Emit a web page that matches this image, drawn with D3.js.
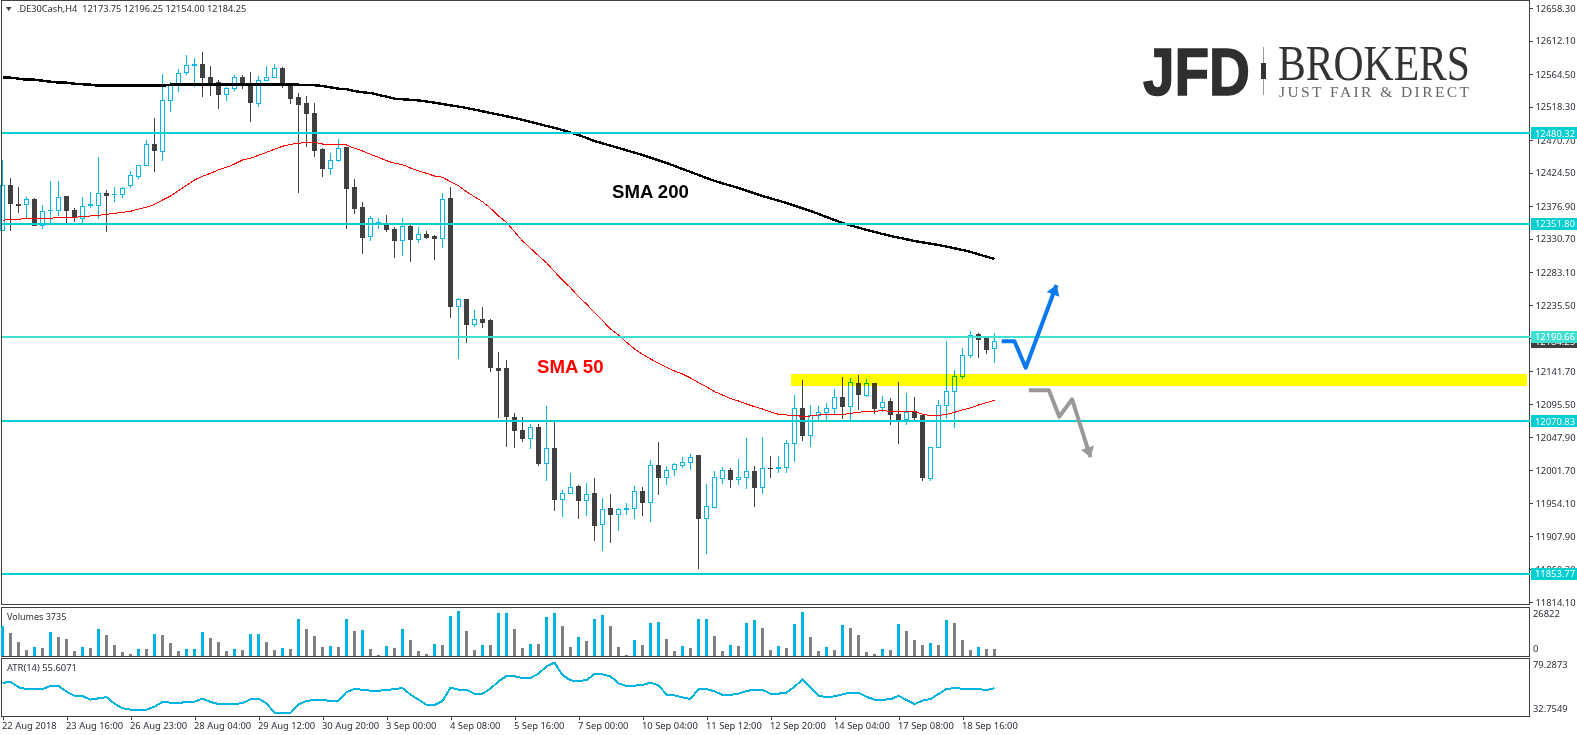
<!DOCTYPE html>
<html>
<head>
<meta charset="utf-8">
<script src="https://cdn.jsdelivr.net/npm/d3@7"></script>
<style>
body { margin: 0; background: #fff; overflow: hidden; }
svg { display: block; }
text { font-family: "Noto Sans", sans-serif; font-size: 9.4px; fill: #2e2e38; }
.crisp { shape-rendering: crispEdges; }
.candle { mix-blend-mode: multiply; }
</style>
</head>
<body>
<div id="chart"></div>
<script>
// H4 candles, left to right
var opens = [12341.8,12406.3,12379.3,12379.3,12386.4,12349.5,12370.3,12370.8,12389.7,12371.2,
12359.4,12378.3,12377.9,12395,12392.6,12393.5,12406.3,12418.5,12434.8,12463.6,
12454.1,12527.1,12548.9,12566.4,12577.2,12578.7,12559.8,12552.7,12535.7,12544.2,
12559.8,12548.5,12522.9,12555.6,12559.8,12572.6,12548.5,12530.4,12521.9,12508.7,
12456.5,12429.9,12441.3,12459.4,12402.5,12374.1,12333.3,12352.3,12349.9,12343.8,
12328.2,12347.1,12329.6,12337.1,12332.9,12331,12387.8,12233.8,12244.7,12208.2,
12216.3,12213.5,12145.3,12145.3,12077,12058.2,12046.8,12062.8,12011.3,12032.6,
11960.1,11968.6,11977.6,11958.7,11967.6,11924,11946.3,11938.8,11946.2,11946.7,
11971.5,11955.3,12008.8,11991.4,12002.7,12008.4,12012.7,12021.6,11933.1,11948.7,
11989.4,12001.3,11988.5,11991.4,11999.9,11976.6,12004.2,12004.1,12005,12039.7,
12089.4,12050.5,12078.9,12083.7,12089.4,12105,12091.7,12125,12107.3,12124,
12090.3,12098.4,12079.9,12072.8,12084.2,12078.5,11989.4,12034,12093.7,12113.6,
12134.9,12164.7,12194.6,12187.9,12173.75];
var highs = [12442.3,12416.7,12404.3,12390.1,12387.8,12378.3,12412.4,12412.4,12389.7,12373.7,
12389.7,12396.8,12446.1,12399.7,12403.9,12404.3,12426.2,12435.2,12470.7,12502,
12564.5,12552.7,12571.2,12591.5,12587.3,12595.8,12575.9,12556,12546.5,12562.7,
12563.1,12566.9,12561.7,12575.9,12578.3,12574,12551.3,12537.1,12533.2,12522.9,
12458.9,12451.8,12472.2,12461.2,12415.3,12382.2,12362.7,12359.9,12364.1,12346.7,
12359.9,12349.9,12347.1,12341,12335.3,12395,12404.3,12245.7,12244.7,12229.1,
12233.4,12216.3,12169,12158,12082.3,12077,12067.1,12067.1,12092.7,12070.4,
11972.9,11997.5,11980,11983.3,11990.4,11961.9,11967.6,11947.3,11954.8,11979,
11977.6,12015.9,12041.5,12007.4,12011.7,12019.8,12024.5,12023.1,11981.8,11999.9,
12005.6,12004.2,12017.4,12047.2,12007.4,12048.7,12021.6,12021.6,12044,12108.3,
12129.6,12094.1,12092.7,12097,12116.8,12133.9,12132.5,12136.7,12130.6,12125.4,
12106.9,12104,12126.8,12111.2,12105.5,12079.9,12034.4,12101.2,12185.1,12143.8,
12175.1,12199.3,12196,12189.3,12196.25];
var lows = [12341.8,12341.4,12367.4,12359.4,12348.9,12344.6,12352.3,12362.7,12352.3,12354.2,
12352.3,12373.7,12358.9,12340,12383,12388.7,12402.9,12415.7,12433.8,12425.7,
12440.9,12511,12539.4,12563.5,12545.6,12532.3,12533.7,12515.2,12526.6,12539.9,
12543.6,12496.7,12518.1,12554.6,12559.8,12545,12522.3,12395.8,12461.2,12447,
12418.5,12421.4,12439.9,12344.2,12366,12309.1,12327.6,12344.2,12340,12303.4,
12306.3,12297.8,12324.8,12329.6,12300.6,12317.7,12218.2,12159.9,12182.7,12205.4,
12204,12141,12076.1,12034.8,12033.4,12041.5,12031.6,12007.9,11986.5,11943.9,
11934.9,11968.6,11932.1,11936.4,11900.8,11886.6,11898,11915,11937.8,11932.1,
11936.4,11927.8,11966.2,11980.4,11993.2,12004.6,12001.7,11861,11882.4,11948.7,
11981.8,11976.2,11980.4,11974.7,11949.2,11967.6,11990.4,11997.5,11997.5,12013.1,
12043.4,12034.8,12072.8,12072.8,12081.3,12074.6,12072.8,12087,12105.5,12081.3,
12084.2,12065.7,12038.7,12065.7,12072.8,11986.1,11986.1,12033.4,12074.2,12061.4,
12131,12160.9,12160.9,12166.6,12154];
var closes = [12406.3,12380.2,12377.3,12386.4,12349.5,12369.4,12370.8,12389.3,12370.2,12360.9,
12376.5,12378.8,12395,12391.6,12393,12402.1,12420.6,12434.8,12464.6,12455.1,
12527.1,12547.5,12565.5,12576.9,12577.7,12559.3,12552.2,12535.1,12544.2,12559.8,
12548.9,12523.7,12555,12559.8,12572.6,12548.9,12529.4,12520.9,12508.1,12455.5,
12429.9,12441.9,12458.9,12401.1,12373.1,12331.9,12359.4,12352.8,12344.2,12327.6,
12348.1,12329,12336.7,12331.9,12330.5,12386.4,12233.8,12244.3,12208.2,12215.9,
12211.1,12146.7,12143.8,12077.5,12057.6,12046.2,12062.4,12010.7,12032.6,11959.5,
11968.6,11977.1,11958.1,11967.2,11922.6,11945.9,11938.2,11945.9,11946.7,11971.5,
11955.3,12008.4,11990.8,12001.3,12009.8,12012.7,12019.8,11932.1,11950.1,11991.4,
12001.3,11988,11991.4,11999.9,11976.6,12004.2,12003.9,12004.6,12039.7,12089.4,
12050.5,12078.9,12083.7,12089.4,12105,12091.7,12126.4,12108.8,12125,12088.4,
12098,12079.9,12072.8,12083.7,12077,11990.4,12034,12093.7,12113.6,12134.9,
12164.7,12193.2,12186.9,12172.7,12184.25];

// moving averages, one value per candle
var sma50 = [12356.6,12358,12358,12359.4,12359.4,12359.4,12359.4,12360.9,12360.9,12360.9,
12361.7,12362.7,12363.7,12365.1,12366.5,12368,12369.4,12372.6,12375,12379.3,
12385.4,12391.1,12398.7,12406.3,12413.9,12419.1,12423.4,12428.1,12431.9,12436.6,
12442.3,12444.7,12449,12453.2,12457.5,12461.8,12464.6,12466,12467.4,12467.4,
12465,12465,12464,12463.6,12458.9,12455.1,12450.4,12446.1,12441.3,12437.6,
12435.6,12430.9,12426.7,12423.4,12419.5,12417.7,12411.4,12405.8,12397.2,12390.1,
12383,12373.7,12362.7,12353.8,12340.4,12327.2,12316.8,12306.3,12296.3,12283.5,
12271.7,12260.8,12248,12237.6,12225.3,12213.9,12202.1,12193.6,12183.2,12173.7,
12166.1,12159.5,12153.3,12147.7,12142.4,12138.2,12132.5,12125.8,12120.1,12113,
12108.3,12103.1,12099.8,12095.5,12091.7,12088.4,12084.2,12080.9,12079.9,12079.5,
12077.8,12078.5,12079.9,12080.3,12080.3,12080.3,12082.3,12083.7,12085.2,12085.2,
12086,12085.2,12085.2,12085.2,12085.2,12080.9,12078.9,12078.9,12080.9,12083.7,
12087,12089.9,12094.1,12097.4,12100.8];
var sma200 = [12559.3,12559.3,12557.9,12556.4,12556.4,12555,12553.6,12552.2,12552.2,12550.7,
12549.9,12549.3,12547.9,12547.9,12547.9,12547.9,12547.9,12547.9,12547.9,12547.9,
12547.9,12549.3,12549.3,12549.3,12549.3,12549.3,12549.3,12549.3,12549.3,12549.3,
12549.3,12549.3,12549.3,12549.3,12549.3,12549.3,12549.3,12549.3,12549,12548.5,
12547.5,12545.6,12543.6,12542.8,12540.4,12538.5,12537.5,12534.7,12532.3,12529.4,
12528.6,12527.8,12526.9,12525.4,12523.7,12521.9,12520,12518.2,12516.2,12513.8,
12511.5,12509.1,12506.7,12504.4,12502,12499.2,12496.3,12493.5,12490.6,12487.8,
12484.9,12481.4,12477.8,12473.6,12469.3,12466,12462.7,12459.4,12456.1,12452.7,
12449.4,12445.6,12441.9,12438,12433.8,12429.5,12425.3,12421,12416.7,12412.5,
12409.2,12405.8,12402.5,12398.7,12395,12391.1,12387.9,12384.5,12381.2,12377.4,
12373.7,12369.8,12365.6,12361.3,12357,12352.8,12349.5,12346.1,12342.8,12340,
12337.1,12334.3,12331.9,12329.6,12327.2,12325.3,12323.4,12321.5,12319.1,12316.8,
12314.4,12311.6,12308.3,12304.9,12301.6];

var volumes = [17678,13411,7925,3048,4877,4810,14021,10973,9754,2438,
4877,4267,15850,12192,6096,1829,610,3735,3700,12802,
12192,7315,2438,3735,3760,14021,10363,7925,2438,3735,
3048,12802,12850,7925,3048,4267,3735,21946,15850,11582,
4877,5486,4877,21946,14630,15240,3735,150,5486,4267,
15850,9144,2438,610,6706,6096,23770,26822,14630,3048,
6150,6096,25600,25650,15850,4267,6706,6650,23165,25600,
17678,4877,10973,8534,21946,24384,17678,4877,150,9144,
6096,19507,20117,9754,2438,5486,4267,21946,22000,11582,
2438,6096,5486,19507,21336,16459,3048,5486,4267,18900,
26213,10973,2438,4877,3048,18288,16459,12192,1829,610,
3735,3048,18900,14630,9144,6096,7315,6096,21336,19507,
9144,3048,4877,3800,3735];

var atr = [60.4,61.6,56.5,54.9,54.9,54.9,57.7,57.7,52.5,48.8,
48.5,45.2,46.4,47.6,41.5,37.3,36.1,36.1,36.1,38.8,
43.1,42.5,42.1,43.1,43.4,46.1,43.1,41.2,41.2,41.2,
42.1,45.5,46.1,41.8,33.3,33,33,40.9,44,44.9,
44.6,44.3,44.3,52.2,54.9,54.3,53.4,53.4,54,54.9,
55.8,49.8,45.2,40.6,40.3,44,56.1,54.3,54.3,50.7,
50.7,55.2,61.9,66.8,66.5,65,65,68.9,75.6,78.95,
67.7,62.8,62.2,63.1,68.6,68.3,66.5,60.1,57.7,58,
58.6,60.7,58.3,49.8,49.1,47.3,45.8,54.9,54.9,52.8,
49.5,49.5,50.7,53.1,54.3,54,50.7,50.7,51.6,57.1,
63.4,56.5,48.8,47.6,48.2,50.1,51.6,51.6,47.9,45.2,
45.2,45.5,48.8,44.9,41.2,44.3,45.8,50.4,54.9,55.8,
55.2,54.9,54.9,54,55.6071];

var priceTicks = [12658.30,12612.10,12564.50,12518.30,12470.70,12424.50,12376.90,12330.70,12283.10,12235.50,
12189.30,12141.70,12095.50,12047.90,12001.70,11954.10,11907.90,11860.30,11814.10];
var dateLabels = ["22 Aug 2018","23 Aug 16:00","26 Aug 23:00","28 Aug 04:00","29 Aug 12:00","30 Aug 20:00","3 Sep 00:00","4 Sep 08:00",
"5 Sep 16:00","7 Sep 00:00","10 Sep 04:00","11 Sep 12:00","12 Sep 20:00","14 Sep 04:00","17 Sep 08:00","18 Sep 16:00"];
var dateTickIndex = [0,8,16,24,32,40,48,56,64,72,80,88,96,104,112,120];

var levelPrices = [12480.32,12351.80,12190.66,12070.83,11853.77];
var levelColors = ["#00CED1","#00CED1","#40E0D0","#00CED1","#00CED1"];

// the hand drawn scenario arrows, in candle index / price
var blueArrowIdx = [124.9,126.5,127.9,131.75];
var blueArrowPrice = [12184.6,12184.6,12147.1,12264.6];
var grayArrowIdx = [128.3,130.8,132.1,133.7,136];
var grayArrowPrice = [12115,12115,12077.5,12102.2,12019.8];

var bandStartIdx = 98.5, bandHigh = 12138.1, bandLow = 12121.5;

var width = 1577, height = 735, axisX = 1529.5;
var upColor = "#00b7e6", downColor = "#404040";

var x = d3.scaleLinear().domain([0,124]).range([2.5,994.5]);
var y = d3.scaleLinear().domain([12658.30,11814.10]).range([8,602]);
var yVol = d3.scaleLinear().domain([0,26822]).range([655.5,611]);
var yAtr = d3.scaleLinear().domain([32.7549,79.2873]).range([713.3,662.3]);

var svg = d3.select("#chart").append("svg")
    .attr("width", width)
    .attr("height", height);

// pane frames
var panes = [[0.5,604.5],[607.5,656.5],[658.5,716.5]];
svg.append("g").selectAll("path")
    .data(panes)
    .join("path")
    .attr("class","crisp")
    .attr("fill","none")
    .attr("stroke","#404040")
    .attr("d", function(d){
        return "M1.5," + d[0] + "H" + axisX + "V" + d[1] + "H1.5Z";
    });

// yellow zone goes under the candles
svg.append("rect")
    .attr("class","crisp")
    .attr("x", x(bandStartIdx))
    .attr("y", y(bandHigh))
    .attr("width", axisX - 2.5 - x(bandStartIdx))
    .attr("height", y(bandLow) - y(bandHigh))
    .attr("fill","#ffff00");

var candleData = opens.map(function(o,i){
    return {i:i, open:o, high:highs[i], low:lows[i], close:closes[i]};
});

var candle = svg.append("g").selectAll("g")
    .data(candleData)
    .join("g")
    .attr("class","candle crisp")
    .attr("stroke", function(d){ return d.close >= d.open ? upColor : downColor; });

candle.append("line")
    .attr("x1", function(d){ return x(d.i); })
    .attr("x2", function(d){ return x(d.i); })
    .attr("y1", function(d){ return y(d.high); })
    .attr("y2", function(d){ return y(Math.max(d.open,d.close)); });
candle.append("line")
    .attr("x1", function(d){ return x(d.i); })
    .attr("x2", function(d){ return x(d.i); })
    .attr("y1", function(d){ return y(Math.min(d.open,d.close)); })
    .attr("y2", function(d){ return y(d.low); });
candle.append("rect")
    .attr("x", function(d){ return x(d.i) - 2; })
    .attr("width", 4)
    .attr("y", function(d){ return y(Math.max(d.open,d.close)); })
    .attr("height", function(d){ return Math.abs(y(d.open) - y(d.close)); })
    .attr("fill", function(d){ return d.close >= d.open ? "none" : downColor; });

var smaLine = d3.line()
    .x(function(d,i){ return x(i); })
    .y(function(d){ return y(d); });

svg.append("path")
    .datum(sma50)
    .attr("class","crisp")
    .attr("fill","none")
    .attr("stroke","#ff0000")
    .attr("stroke-width",1)
    .attr("d", smaLine);
svg.append("path")
    .datum(sma200)
    .attr("class","crisp")
    .attr("fill","none")
    .attr("stroke","#000000")
    .attr("stroke-width",2.4)
    .attr("d", smaLine);

// horizontal levels
svg.append("g").selectAll("line")
    .data(levelPrices)
    .join("line")
    .attr("class","crisp")
    .attr("x1",2)
    .attr("x2",axisX)
    .attr("y1", function(d){ return y(d); })
    .attr("y2", function(d){ return y(d); })
    .attr("stroke-width",2)
    .attr("stroke", function(d,i){ return levelColors[i]; });

// arrows
function drawArrow(idx, price, color){
    var pts = idx.map(function(d,i){ return [x(d), y(price[i])]; });
    svg.append("path")
        .attr("fill","none")
        .attr("stroke",color)
        .attr("stroke-width",4)
        .attr("stroke-linejoin","round")
        .attr("d", d3.line()(pts));
    var a = pts[pts.length-2], b = pts[pts.length-1];
    var ang = Math.atan2(b[1]-a[1], b[0]-a[0]);
    var head = [-0.6,0.6].map(function(t){
        return [b[0] - 12*Math.cos(ang+t), b[1] - 12*Math.sin(ang+t)];
    });
    svg.append("path")
        .attr("fill",color)
        .attr("d", d3.line()([head[0], b, head[1]]) + "Z");
}
drawArrow(blueArrowIdx, blueArrowPrice, "#0a78f0");
drawArrow(grayArrowIdx, grayArrowPrice, "#999999");

// volume bars, blue when above the previous bar
svg.append("g").selectAll("rect")
    .data(volumes)
    .join("rect")
    .attr("class","crisp")
    .attr("x", function(d,i){ return x(i) - 1.5; })
    .attr("width",3)
    .attr("y", function(d){ return yVol(d); })
    .attr("height", function(d){ return yVol(0) - yVol(d); })
    .attr("fill", function(d,i){ return (i == 0 || d > volumes[i-1]) ? "#00b4e0" : "#808080"; });

svg.append("path")
    .datum(atr)
    .attr("class","crisp")
    .attr("fill","none")
    .attr("stroke","#00b4e0")
    .attr("stroke-width",2)
    .attr("d", d3.line()
        .x(function(d,i){ return x(i); })
        .y(function(d){ return yAtr(d); }));

// price axis
var yAxis = svg.append("g")
    .attr("transform","translate(" + axisX + ",0)")
    .call(d3.axisRight(y).tickValues(priceTicks).tickFormat(d3.format(".2f")).tickSize(3).tickPadding(3));
yAxis.select(".domain").remove();
yAxis.selectAll("line").attr("stroke","#404040").attr("class","crisp");
yAxis.selectAll("text").attr("fill",null);

// date axis
var xAxis = svg.append("g")
    .attr("transform","translate(0,716.5)")
    .call(d3.axisBottom(x).tickValues(dateTickIndex)
        .tickFormat(function(d,i){ return dateLabels[i]; })
        .tickSize(3).tickPadding(3));
xAxis.select(".domain").remove();
xAxis.selectAll("line").attr("stroke","#404040").attr("class","crisp");
xAxis.selectAll("text").attr("fill",null).attr("text-anchor","start").attr("dx",-1);

// price tags on the axis
var tagPrices = [12184.25].concat(levelPrices);
var tagColors = ["#404040"].concat(levelColors);
var tag = svg.append("g").selectAll("g")
    .data(tagPrices)
    .join("g")
    .attr("transform", function(d){ return "translate(1531," + y(d) + ")"; });
tag.append("rect")
    .attr("class","crisp")
    .attr("y",-6)
    .attr("width",46)
    .attr("height",12)
    .attr("fill", function(d,i){ return tagColors[i]; });
tag.append("text")
    .attr("x",4)
    .attr("dy","0.35em")
    .style("fill","#ffffff")
    .text(function(d){ return d3.format(".2f")(d); });

// pane scale labels
var paneLabels = [["26822",614],["0",649],["79.2873",665],["32.7549",709]];
svg.append("g").selectAll("text")
    .data(paneLabels)
    .join("text")
    .attr("x",1533)
    .attr("y", function(d){ return d[1]; })
    .attr("dy","0.35em")
    .text(function(d){ return d[0]; });

// headers
svg.append("path").attr("fill","#404040").attr("d","M6,7H11.5L8.75,11Z");
svg.append("text").attr("x",17).attr("y",9).attr("dy","0.35em")
    .attr("xml:space","preserve")
    .style("font-size","9.2px")
    .text(".DE30Cash,H4  12173.75 12196.25 12154.00 12184.25");
svg.append("text").attr("x",7).attr("y",616.7).attr("dy","0.35em").style("font-size","9px").text("Volumes 3735");
svg.append("text").attr("x",7).attr("y",667.7).attr("dy","0.35em").text("ATR(14) 55.6071");

// labels on the chart
svg.append("text").attr("x",612).attr("y",198)
    .style("font-family","'Liberation Sans'").style("font-weight","bold").style("font-size","18.6px").style("fill","#000")
    .text("SMA 200");
svg.append("text").attr("x",537).attr("y",373)
    .style("font-family","'Liberation Sans'").style("font-weight","bold").style("font-size","18.6px").style("fill","#ff0000")
    .text("SMA 50");

// logo
var logo = svg.append("g");
logo.append("text").attr("x",1143).attr("y",95)
    .attr("textLength",107).attr("lengthAdjust","spacingAndGlyphs")
    .style("font-family","'Liberation Sans'").style("font-weight","bold").style("font-size","67px")
    .style("fill","#2f2f2f").style("stroke","#2f2f2f").style("stroke-width","1.5px")
    .text("JFD");
logo.append("rect").attr("x",1263).attr("y",47).attr("width",1).attr("height",48).attr("fill","#999");
logo.append("rect").attr("x",1261).attr("y",63).attr("width",5).attr("height",16).attr("fill","#333");
logo.append("text").attr("x",1278).attr("y",80)
    .attr("textLength",192).attr("lengthAdjust","spacingAndGlyphs")
    .style("font-family","'Liberation Serif'").style("font-size","50px").style("fill","#333")
    .text("BROKERS");
logo.append("text").attr("x",1279).attr("y",96.5)
    .attr("textLength",190).attr("lengthAdjust","spacing")
    .style("font-family","'Liberation Serif'").style("font-size","15.5px").style("fill","#666")
    .text("JUST FAIR & DIRECT");
</script>
</body>
</html>
